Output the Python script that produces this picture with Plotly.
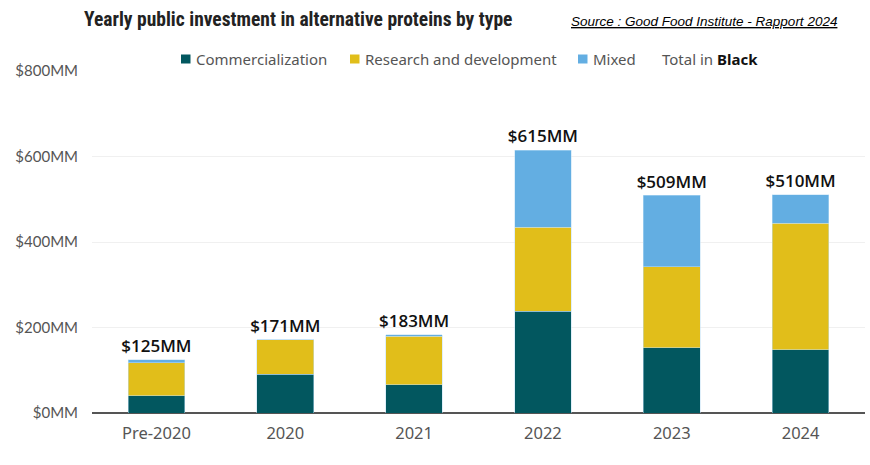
import plotly.graph_objects as go

categories = ["Pre-2020", "2020", "2021", "2022", "2023", "2024"]
commercialization = [40, 91, 66, 238, 153, 148]
research_dev = [78, 80, 114, 197, 189, 296]
mixed = [7, 0, 3, 180, 167, 66]
totals = [125, 171, 183, 615, 509, 510]
total_labels = ["$125MM", "$171MM", "$183MM", "$615MM", "$509MM", "$510MM"]
tick_vals = [0, 200, 400, 600, 800]
tick_text = ["$0MM", "$200MM", "$400MM", "$600MM", "$800MM"]

series_names = ["Commercialization", "Research and development", "Mixed"]
series_colors = ["#02575F", "#E1BE1A", "#63AEE2"]
series_values = [commercialization, research_dev, mixed]

L, R, T, B = 92, 5, 71, 52
PW, PH = 870 - L - R, 465 - T - B


def px(x):
    return (x - L) / PW


def py(y):
    return (465 - y - B) / PH


fig = go.Figure()
for name, vals, col in zip(series_names, series_values, series_colors):
    fig.add_trace(go.Bar(x=categories, y=vals, name=name, showlegend=False,
                         marker=dict(color=col, line=dict(width=0.5, color="#bfe0f5"))))

fig.add_trace(go.Scatter(x=categories, y=totals, mode="markers+text", text=total_labels,
                         textposition="top center", showlegend=False, cliponaxis=False,
                         marker=dict(size=4, opacity=0),
                         textfont=dict(family="Open Sans, Noto Sans", size=17, color="#111",
                                       weight=600)))

fig.update_layout(
    barmode="stack",
    bargap=0.56,
    width=870, height=465,
    margin=dict(l=L, r=R, t=T, b=B, autoexpand=False),
    plot_bgcolor="white", paper_bgcolor="white",
    showlegend=False,
    xaxis=dict(showgrid=False, tickfont=dict(family="Noto Sans, Open Sans", size=16.5, color="#555"),
               showline=False, ticks="", ticklabelstandoff=8),
    yaxis=dict(range=[0, 800], tickvals=tick_vals, ticktext=tick_text,
               gridcolor="#f0f0f0", gridwidth=1,
               zeroline=True, zerolinecolor="#555", zerolinewidth=2,
               tickfont=dict(family="Lato, Open Sans", size=15, color="#555"),
               ticklabelstandoff=13),
)

# legend (squares + labels)
legend_sq_x = [181, 350, 578]
for name, col, sx in zip(series_names, series_colors, legend_sq_x):
    fig.add_shape(type="rect", xref="paper", yref="paper",
                  x0=px(sx), x1=px(sx + 9.5), y0=py(63.5), y1=py(54.5),
                  fillcolor=col, line=dict(width=0))
    fig.add_annotation(text=name, xref="paper", yref="paper", x=px(sx + 13), y=py(59),
                       xanchor="left", yanchor="middle", showarrow=False,
                       font=dict(family="Noto Sans, Open Sans", size=15, color="#555"))
fig.add_annotation(text="Total in <b style='color:#111'>Black</b>",
                   xref="paper", yref="paper", x=px(660), y=py(59),
                   xanchor="left", yanchor="middle", showarrow=False,
                   font=dict(family="Noto Sans, Open Sans", size=15, color="#555"))

fig.add_annotation(text="<b>Yearly public investment in alternative proteins by type</b>",
                   xref="paper", yref="paper", x=px(82), y=py(20),
                   xanchor="left", yanchor="middle", showarrow=False,
                   font=dict(family="Liberation Sans Narrow, Roboto Condensed, DejaVu Sans Condensed, Roboto",
                             size=19.5, color="#222"))
fig.add_annotation(text="<i><u>Source : Good Food Institute - Rapport 2024</u></i>",
                   xref="paper", yref="paper", x=px(839), y=py(22),
                   xanchor="right", yanchor="middle", showarrow=False,
                   font=dict(family="Liberation Sans Narrow, Liberation Sans", size=13.5, color="#000"))

fig.write_html("out.html", config={"displayModeBar": False},
               post_script="document.body.style.margin='0';document.body.style.padding='0';")
